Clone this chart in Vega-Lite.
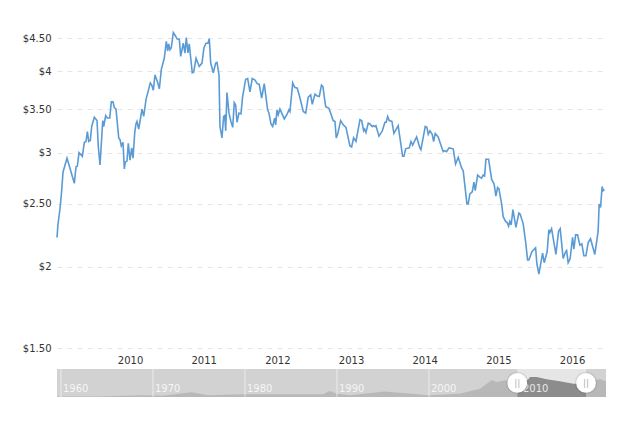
{
  "$schema": "https://vega.github.io/schema/vega-lite/v6.json",
  "padding": {"left": 22, "top": 29, "right": 0, "bottom": 0},
  "bounds": "flush",
  "spacing": 21,
  "background": "white",
  "config": {
    "font": "DejaVu Sans",
    "view": {"stroke": null},
    "axis": {"labelFont": "DejaVu Sans", "labelFontSize": 10, "labelColor": "#333333"}
  },
  "datasets": {
    "price": [
      {"year":2009.009,"price":2.22},{"year":2009.023,"price":2.33},{"year":2009.050,"price":2.46},{"year":2009.071,"price":2.61},{"year":2009.091,"price":2.80},{"year":2009.145,"price":2.94},{"year":2009.176,"price":2.86},{"year":2009.244,"price":2.69},{"year":2009.267,"price":2.85},{"year":2009.285,"price":2.86},{"year":2009.308,"price":3.00},{"year":2009.353,"price":2.96},{"year":2009.380,"price":3.11},{"year":2009.403,"price":3.12},{"year":2009.421,"price":3.23},{"year":2009.440,"price":3.12},{"year":2009.461,"price":3.13},{"year":2009.480,"price":3.29},{"year":2009.516,"price":3.40},{"year":2009.552,"price":3.36},{"year":2009.570,"price":3.06},{"year":2009.593,"price":2.87},{"year":2009.630,"price":3.36},{"year":2009.643,"price":3.29},{"year":2009.670,"price":3.42},{"year":2009.692,"price":3.39},{"year":2009.725,"price":3.39},{"year":2009.746,"price":3.59},{"year":2009.769,"price":3.59},{"year":2009.787,"price":3.52},{"year":2009.810,"price":3.50},{"year":2009.847,"price":3.16},{"year":2009.864,"price":3.14},{"year":2009.882,"price":3.07},{"year":2009.905,"price":3.11},{"year":2009.923,"price":2.83},{"year":2009.936,"price":2.90},{"year":2009.959,"price":2.91},{"year":2009.977,"price":3.10},
      {"year":2010.000,"price":2.92},{"year":2010.023,"price":3.05},{"year":2010.041,"price":2.94},{"year":2010.064,"price":3.22},{"year":2010.081,"price":3.32},{"year":2010.095,"price":3.35},{"year":2010.118,"price":3.26},{"year":2010.163,"price":3.50},{"year":2010.186,"price":3.41},{"year":2010.217,"price":3.62},{"year":2010.275,"price":3.84},{"year":2010.295,"price":3.81},{"year":2010.316,"price":3.74},{"year":2010.339,"price":3.95},{"year":2010.371,"price":3.86},{"year":2010.398,"price":3.76},{"year":2010.425,"price":4.03},{"year":2010.465,"price":4.19},{"year":2010.493,"price":4.45},{"year":2010.512,"price":4.30},{"year":2010.525,"price":4.41},{"year":2010.543,"price":4.32},{"year":2010.560,"price":4.35},{"year":2010.588,"price":4.59},{"year":2010.615,"price":4.54},{"year":2010.638,"price":4.49},{"year":2010.669,"price":4.48},{"year":2010.688,"price":4.22},{"year":2010.723,"price":4.42},{"year":2010.746,"price":4.27},{"year":2010.764,"price":4.51},{"year":2010.787,"price":4.27},{"year":2010.804,"price":4.41},{"year":2010.845,"price":3.98},{"year":2010.864,"price":3.99},{"year":2010.896,"price":4.19},{"year":2010.940,"price":4.07},{"year":2010.977,"price":4.12},
      {"year":2011.004,"price":4.35},{"year":2011.031,"price":4.42},{"year":2011.058,"price":4.42},{"year":2011.076,"price":4.49},{"year":2011.095,"price":4.12},{"year":2011.130,"price":3.98},{"year":2011.163,"price":4.12},{"year":2011.181,"price":4.13},{"year":2011.208,"price":3.95},{"year":2011.221,"price":3.29},{"year":2011.248,"price":3.16},{"year":2011.271,"price":3.41},{"year":2011.285,"price":3.42},{"year":2011.299,"price":3.24},{"year":2011.316,"price":3.71},{"year":2011.343,"price":3.45},{"year":2011.370,"price":3.35},{"year":2011.394,"price":3.28},{"year":2011.415,"price":3.58},{"year":2011.434,"price":3.55},{"year":2011.452,"price":3.34},{"year":2011.479,"price":3.45},{"year":2011.506,"price":3.44},{"year":2011.529,"price":3.66},{"year":2011.570,"price":3.89},{"year":2011.597,"price":3.90},{"year":2011.628,"price":3.72},{"year":2011.659,"price":3.90},{"year":2011.696,"price":3.88},{"year":2011.727,"price":3.83},{"year":2011.754,"price":3.82},{"year":2011.787,"price":3.64},{"year":2011.822,"price":3.83},{"year":2011.868,"price":3.49},{"year":2011.886,"price":3.45},{"year":2011.913,"price":3.32},{"year":2011.936,"price":3.29},{"year":2011.963,"price":3.39},{"year":2011.977,"price":3.31},{"year":2011.995,"price":3.49},
      {"year":2012.012,"price":3.43},{"year":2012.035,"price":3.50},{"year":2012.094,"price":3.38},{"year":2012.134,"price":3.44},{"year":2012.158,"price":3.49},{"year":2012.171,"price":3.47},{"year":2012.208,"price":3.84},{"year":2012.235,"price":3.78},{"year":2012.270,"price":3.77},{"year":2012.307,"price":3.64},{"year":2012.352,"price":3.47},{"year":2012.385,"price":3.45},{"year":2012.419,"price":3.65},{"year":2012.452,"price":3.68},{"year":2012.474,"price":3.56},{"year":2012.510,"price":3.69},{"year":2012.533,"price":3.67},{"year":2012.569,"price":3.66},{"year":2012.599,"price":3.81},{"year":2012.619,"price":3.79},{"year":2012.642,"price":3.62},{"year":2012.656,"price":3.53},{"year":2012.700,"price":3.51},{"year":2012.758,"price":3.36},{"year":2012.782,"price":3.35},{"year":2012.799,"price":3.16},{"year":2012.818,"price":3.20},{"year":2012.859,"price":3.36},{"year":2012.894,"price":3.31},{"year":2012.931,"price":3.28},{"year":2012.985,"price":3.07},
      {"year":2013.008,"price":3.06},{"year":2013.035,"price":3.16},{"year":2013.067,"price":3.12},{"year":2013.121,"price":3.37},{"year":2013.144,"price":3.36},{"year":2013.171,"price":3.24},{"year":2013.185,"price":3.26},{"year":2013.202,"price":3.22},{"year":2013.234,"price":3.33},{"year":2013.256,"price":3.32},{"year":2013.288,"price":3.29},{"year":2013.301,"price":3.30},{"year":2013.325,"price":3.29},{"year":2013.338,"price":3.30},{"year":2013.379,"price":3.18},{"year":2013.424,"price":3.24},{"year":2013.460,"price":3.34},{"year":2013.478,"price":3.34},{"year":2013.497,"price":3.41},{"year":2013.518,"price":3.36},{"year":2013.555,"price":3.35},{"year":2013.582,"price":3.21},{"year":2013.640,"price":3.30},{"year":2013.700,"price":2.96},{"year":2013.718,"price":2.96},{"year":2013.741,"price":3.04},{"year":2013.790,"price":3.05},{"year":2013.813,"price":3.12},{"year":2013.836,"price":3.08},{"year":2013.890,"price":3.17},{"year":2013.935,"price":3.05},{"year":2013.949,"price":3.03},
      {"year":2014.007,"price":3.29},{"year":2014.030,"price":3.28},{"year":2014.048,"price":3.20},{"year":2014.071,"price":3.24},{"year":2014.102,"price":3.20},{"year":2014.121,"price":3.12},{"year":2014.143,"price":3.21},{"year":2014.183,"price":3.17},{"year":2014.216,"price":3.09},{"year":2014.251,"price":3.01},{"year":2014.274,"price":3.02},{"year":2014.297,"price":3.01},{"year":2014.329,"price":3.05},{"year":2014.387,"price":3.04},{"year":2014.419,"price":2.88},{"year":2014.455,"price":2.95},{"year":2014.501,"price":2.84},{"year":2014.523,"price":2.81},{"year":2014.573,"price":2.50},{"year":2014.590,"price":2.50},{"year":2014.613,"price":2.59},{"year":2014.645,"price":2.61},{"year":2014.668,"price":2.70},{"year":2014.686,"price":2.62},{"year":2014.718,"price":2.77},{"year":2014.749,"price":2.75},{"year":2014.772,"price":2.74},{"year":2014.794,"price":2.77},{"year":2014.813,"price":2.76},{"year":2014.831,"price":2.93},{"year":2014.867,"price":2.93},{"year":2014.908,"price":2.73},{"year":2014.943,"price":2.68},{"year":2014.966,"price":2.57},{"year":2014.989,"price":2.65},
      {"year":2015.007,"price":2.64},{"year":2015.044,"price":2.50},{"year":2015.065,"price":2.39},{"year":2015.098,"price":2.35},{"year":2015.120,"price":2.34},{"year":2015.139,"price":2.31},{"year":2015.156,"price":2.35},{"year":2015.174,"price":2.32},{"year":2015.197,"price":2.45},{"year":2015.238,"price":2.30},{"year":2015.278,"price":2.42},{"year":2015.296,"price":2.41},{"year":2015.337,"price":2.33},{"year":2015.373,"price":2.17},{"year":2015.396,"price":2.05},{"year":2015.414,"price":2.05},{"year":2015.455,"price":2.11},{"year":2015.505,"price":2.14},{"year":2015.523,"price":2.02},{"year":2015.550,"price":1.95},{"year":2015.600,"price":2.10},{"year":2015.622,"price":2.03},{"year":2015.662,"price":2.11},{"year":2015.685,"price":2.28},{"year":2015.699,"price":2.26},{"year":2015.722,"price":2.29},{"year":2015.781,"price":2.09},{"year":2015.817,"price":2.27},{"year":2015.839,"price":2.29},{"year":2015.879,"price":2.06},{"year":2015.912,"price":2.11},{"year":2015.926,"price":2.12},{"year":2015.947,"price":2.03},{"year":2015.974,"price":2.06},
      {"year":2016.007,"price":2.22},{"year":2016.025,"price":2.13},{"year":2016.048,"price":2.24},{"year":2016.075,"price":2.24},{"year":2016.106,"price":2.16},{"year":2016.133,"price":2.17},{"year":2016.160,"price":2.08},{"year":2016.188,"price":2.08},{"year":2016.219,"price":2.18},{"year":2016.251,"price":2.21},{"year":2016.309,"price":2.09},{"year":2016.354,"price":2.27},{"year":2016.368,"price":2.50},{"year":2016.387,"price":2.47},{"year":2016.408,"price":2.66},{"year":2016.422,"price":2.62},{"year":2016.441,"price":2.63}
    ],
    "overview": [
      {"year":1959.57,"price":0.12},{"year":1964,"price":0.12},{"year":1967,"price":0.25},{"year":1969,"price":0.4},{"year":1971,"price":0.25},{"year":1974.2,"price":1.0},{"year":1976,"price":0.4},{"year":1980,"price":0.6},{"year":1985,"price":0.6},{"year":1988.5,"price":0.6},{"year":1989.2,"price":1.28},{"year":1990,"price":0.7},{"year":1991.4,"price":0.36},{"year":1995.2,"price":1.2},{"year":2000,"price":0.36},{"year":2003.3,"price":0.7},{"year":2004.3,"price":1.2},{"year":2005.54,"price":1.77},{"year":2006.27,"price":2.84},{"year":2006.82,"price":3.57},{"year":2007.36,"price":3.2},{"year":2008.26,"price":3.57},{"year":2009.6,"price":2.5},{"year":2010.2,"price":2.56},{"year":2011.0,"price":4.27},{"year":2011.7,"price":4.27},{"year":2012.8,"price":3.78},{"year":2014.2,"price":3.35},{"year":2015.7,"price":2.84},{"year":2017.07,"price":2.84},{"year":2017.86,"price":3.57},{"year":2018.6,"price":3.78},{"year":2019.24,"price":3.35}
    ],
    "decades": [
      {"year":1960,"label":"1960","y":1.7},{"year":1970,"label":"1970","y":1.7},{"year":1980,"label":"1980","y":1.7},{"year":1990,"label":"1990","y":1.7},{"year":2000,"label":"2000","y":1.7},{"year":2010,"label":"2010","y":1.7}
    ],
    "window": [{"from":2009.6,"to":2017.07}],
    "handles": [{"year":2009.6,"y":3.0,"glyph":"||"},{"year":2017.07,"y":3.0,"glyph":"||"}]
  },
  "vconcat": [
    {
      "width": 546,
      "height": 316,
      "data": {"name": "price"},
      "mark": {"type": "line", "color": "#5b9bd5", "strokeWidth": 1.6, "interpolate": "linear"},
      "encoding": {
        "x": {
          "field": "year",
          "type": "quantitative",
          "scale": {"domain": [2009.009, 2016.42], "nice": false, "zero": false},
          "axis": {"values": [2010, 2011, 2012, 2013, 2014, 2015, 2016], "format": "d", "title": null, "grid": false, "domain": false, "ticks": false, "labelPadding": 7, "labelFlush": false}
        },
        "y": {
          "field": "price",
          "type": "quantitative",
          "scale": {"type": "log", "domain": [1.5, 4.6], "nice": false},
          "axis": {
            "values": [1.5, 2, 2.5, 3, 3.5, 4, 4.5],
            "labelExpr": "datum.value % 1 == 0 ? '$' + datum.value : '$' + format(datum.value, '.2f')",
            "title": null,
            "domain": false,
            "ticks": false,
            "labelPadding": 6,
            "grid": true,
            "gridColor": "#e4e4e4",
            "gridDash": [5, 5],
            "gridWidth": 1
          }
        }
      }
    },
    {
      "width": 549,
      "height": 28,
      "view": {"fill": "#d2d2d2", "stroke": null},
      "encoding": {
        "x": {
          "field": "year",
          "type": "quantitative",
          "scale": {"domain": [1959.57, 2019.24], "nice": false, "zero": false},
          "axis": null
        },
        "y": {
          "type": "quantitative",
          "scale": {"domain": [0, 5.98], "nice": false, "zero": false},
          "axis": null
        }
      },
      "layer": [
        {
          "data": {"name": "overview"},
          "mark": {"type": "area", "color": "#b8b8b8"},
          "encoding": {"y": {"field": "price"}}
        },
        {
          "data": {"name": "window"},
          "mark": {"type": "rect", "color": "#e6e6e6"},
          "encoding": {"x": {"field": "from"}, "x2": {"field": "to"}, "y": {"value": 0}, "y2": {"value": 28}}
        },
        {
          "data": {"name": "overview"},
          "transform": [{"filter": "datum.year >= 2009.6 && datum.year <= 2017.07"}],
          "mark": {"type": "area", "color": "#8c8c8c"},
          "encoding": {"y": {"field": "price"}}
        },
        {
          "data": {"name": "decades"},
          "transform": [{"filter": "datum.year < 2010"}],
          "mark": {"type": "rule", "color": "#ffffff", "opacity": 0.6},
          "encoding": {"y": {"value": 0}, "y2": {"value": 28}}
        },
        {
          "data": {"name": "decades"},
          "mark": {"type": "text", "color": "#ffffff", "opacity": 0.8, "align": "left", "dx": 2, "fontSize": 10, "baseline": "middle"},
          "encoding": {"y": {"field": "y"}, "text": {"field": "label"}}
        },
        {
          "data": {"name": "handles"},
          "mark": {"type": "point", "filled": true, "color": "#000000", "opacity": 0.08, "size": 500},
          "encoding": {"y": {"field": "y"}}
        },
        {
          "data": {"name": "handles"},
          "mark": {"type": "point", "filled": true, "color": "#ffffff", "opacity": 1, "size": 390},
          "encoding": {"y": {"field": "y"}}
        },
        {
          "data": {"name": "handles"},
          "mark": {"type": "text", "color": "#b0b0b0", "fontSize": 9, "baseline": "middle"},
          "encoding": {"y": {"field": "y"}, "text": {"field": "glyph"}}
        }
      ]
    }
  ]
}
